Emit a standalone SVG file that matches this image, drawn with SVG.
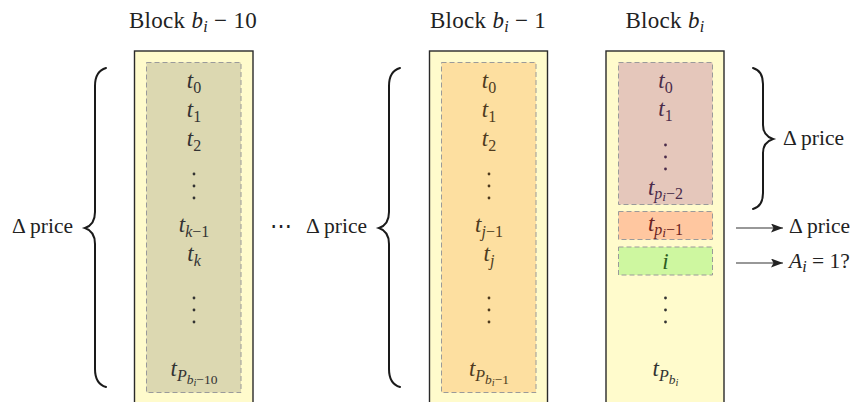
<svg xmlns="http://www.w3.org/2000/svg" width="854" height="402" viewBox="0 0 854 402">
<defs>
<style>
text{font-family:"Liberation Serif","DejaVu Serif",serif;font-size:21.5px;fill:#222}
.ttl{font-size:23px;letter-spacing:0.3px}
.c{text-anchor:middle}
.m{font-style:italic}
.u{font-style:normal}
.t{font-size:23px}
.s{font-size:16px}
.ss{font-size:13.5px}
.sss{font-size:10.5px}
.outer{fill:#fffbcc;stroke:#2a2a2a;stroke-width:1.4}
.inner{stroke:#9a9a9a;stroke-width:1;stroke-dasharray:5 3}
.brace{fill:none;stroke:#1a1a1a;stroke-width:2;stroke-linecap:round}
.arr{stroke:#333;stroke-width:1.2;fill:none}
</style>
<marker id="ah" viewBox="0 0 12 9" refX="12" refY="4.5" markerWidth="12" markerHeight="9" markerUnits="userSpaceOnUse" orient="auto">
<path d="M0,0 L12,4.5 L0,9 L2.5,4.5 Z" fill="#222"/>
</marker>
</defs>

<!-- Block b_i - 10 -->
<g id="block1">
<text class="c ttl" x="193" y="28">Block <tspan class="m">b</tspan><tspan class="m s" dy="4">i</tspan><tspan dy="-4"> − 10</tspan></text>
<rect class="outer" x="134.5" y="51" width="118.5" height="360"/>
<rect class="inner" x="146.5" y="62.5" width="94.5" height="330" fill="#dcd8b1"/>
<g fill="#333">
<text class="c m t" x="194" y="88" style="fill:#333">t<tspan class="u s" dy="5">0</tspan></text>
<text class="c m t" x="194" y="117" style="fill:#333">t<tspan class="u s" dy="5">1</tspan></text>
<text class="c m t" x="194" y="146" style="fill:#333">t<tspan class="u s" dy="5">2</tspan></text>
<circle cx="194" cy="174" r="1.4"/><circle cx="194" cy="186" r="1.4"/><circle cx="194" cy="198" r="1.4"/>
<text class="c m t" x="194" y="232" style="fill:#333">t<tspan class="s" dy="5">k</tspan><tspan class="u s">−1</tspan></text>
<text class="c m t" x="194" y="261" style="fill:#333">t<tspan class="s" dy="5">k</tspan></text>
<circle cx="194" cy="298" r="1.4"/><circle cx="194" cy="310" r="1.4"/><circle cx="194" cy="322" r="1.4"/>
<text class="c m t" x="194" y="376" style="fill:#333">t<tspan class="s" dy="5">P</tspan><tspan class="ss" dy="3">b</tspan><tspan class="sss" dy="2">i</tspan><tspan class="u ss" dy="-2">−10</tspan></text>
</g>
</g>

<!-- Block b_i - 1 -->
<g id="block2">
<text class="c ttl" x="488" y="28">Block <tspan class="m">b</tspan><tspan class="m s" dy="4">i</tspan><tspan dy="-4"> − 1</tspan></text>
<rect class="outer" x="429.5" y="51" width="118" height="360"/>
<rect class="inner" x="441.5" y="62.5" width="94.5" height="330" fill="#fddfa0"/>
<g fill="#4e3b1e">
<text class="c m t" x="489" y="88" style="fill:#4e3b1e">t<tspan class="u s" dy="5">0</tspan></text>
<text class="c m t" x="489" y="117" style="fill:#4e3b1e">t<tspan class="u s" dy="5">1</tspan></text>
<text class="c m t" x="489" y="146" style="fill:#4e3b1e">t<tspan class="u s" dy="5">2</tspan></text>
<circle cx="489" cy="174" r="1.4"/><circle cx="489" cy="186" r="1.4"/><circle cx="489" cy="198" r="1.4"/>
<text class="c m t" x="489" y="232" style="fill:#4e3b1e">t<tspan class="s" dy="5">j</tspan><tspan class="u s">−1</tspan></text>
<text class="c m t" x="489" y="261" style="fill:#4e3b1e">t<tspan class="s" dy="5">j</tspan></text>
<circle cx="489" cy="298" r="1.4"/><circle cx="489" cy="310" r="1.4"/><circle cx="489" cy="322" r="1.4"/>
<text class="c m t" x="489" y="376" style="fill:#4e3b1e">t<tspan class="s" dy="5">P</tspan><tspan class="ss" dy="3">b</tspan><tspan class="sss" dy="2">i</tspan><tspan class="u ss" dy="-2">−1</tspan></text>
</g>
</g>

<!-- Block b_i -->
<g id="block3">
<text class="c ttl" x="665" y="28">Block <tspan class="m">b</tspan><tspan class="m s" dy="4">i</tspan></text>
<rect class="outer" x="606" y="51" width="118" height="360"/>
<g id="prev-txs" fill="#4a2b4a">
<rect class="inner" x="618.5" y="62.5" width="94" height="142" fill="#e5c7bb"/>
<text class="c m t" x="665.5" y="88" style="fill:#4a2b4a">t<tspan class="u s" dy="5">0</tspan></text>
<text class="c m t" x="665.5" y="116" style="fill:#4a2b4a">t<tspan class="u s" dy="5">1</tspan></text>
<circle cx="665.5" cy="145" r="1.4"/><circle cx="665.5" cy="157" r="1.4"/><circle cx="665.5" cy="169" r="1.4"/>
<text class="c m t" x="665.5" y="195" style="fill:#4a2b4a">t<tspan class="s" dy="4">p</tspan><tspan class="ss" dy="2">i</tspan><tspan class="u s" dy="-2">−2</tspan></text>
</g>
<g id="front-tx">
<rect class="inner" x="618.5" y="211.5" width="94" height="28" fill="#ffc7a0"/>
<text class="c m t" x="665.5" y="231" style="fill:#6a2222">t<tspan class="s" dy="4">p</tspan><tspan class="ss" dy="2">i</tspan><tspan class="u s" dy="-2">−1</tspan></text>
</g>
<g id="victim-tx">
<rect class="inner" x="618.5" y="247" width="94" height="28" fill="#cef7a0"/>
<text class="c m t" x="665.5" y="269" style="fill:#2d5e22">i</text>
</g>
<g fill="#333">
<circle cx="665.5" cy="298" r="1.4"/><circle cx="665.5" cy="310" r="1.4"/><circle cx="665.5" cy="322" r="1.4"/>
</g>
<text class="c m t" x="665.5" y="376" style="fill:#333">t<tspan class="s" dy="5">P</tspan><tspan class="ss" dy="3">b</tspan><tspan class="sss" dy="2">i</tspan></text>
</g>

<!-- braces and labels -->
<g id="brace1">
<path class="brace" d="M106,68 C99,70 95,76 95,86 L95,212 C95,222 91,226 85,228 C91,230 95,234 95,244 L95,369 C95,379 99,385 106,387"/>
<text x="12" y="233">Δ price</text>
</g>
<text class="c" x="281" y="233">⋯</text>
<g id="brace2">
<path class="brace" d="M400,68 C393,70 389,76 389,86 L389,212 C389,222 385,226 379,228 C385,230 389,234 389,244 L389,369 C389,379 393,385 400,387"/>
<text x="306" y="233">Δ price</text>
</g>
<g id="brace3">
<path class="brace" d="M753,68 C760,70 763,76 763,84 L763,125 C763,133 767,137 773,139 C767,141 763,145 763,153 L763,193 C763,201 760,207 753,209"/>
<text x="783" y="145">Δ price</text>
</g>

<g id="connectors">
<line class="arr" x1="736" y1="228" x2="783" y2="228" marker-end="url(#ah)"/>
<line class="arr" x1="736" y1="263" x2="783" y2="263" marker-end="url(#ah)"/>
</g>
<text x="789" y="233">Δ price</text>
<text x="789" y="268"><tspan class="m">A</tspan><tspan class="m s" dy="4">i</tspan><tspan dy="-4"> = 1?</tspan></text>
</svg>
